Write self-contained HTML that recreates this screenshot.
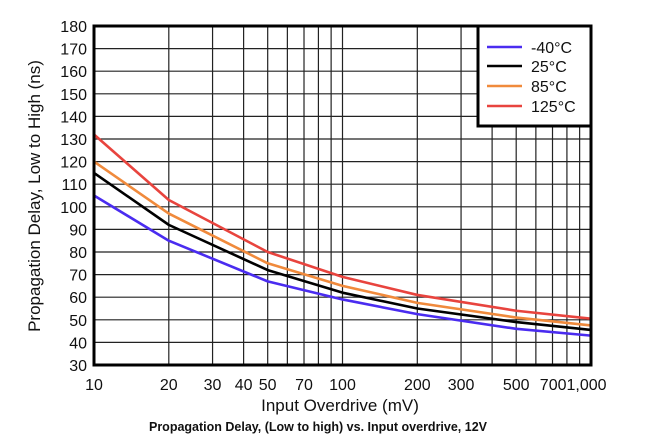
<!DOCTYPE html>
<html><head><meta charset="utf-8"><style>body{margin:0;background:#fff}svg{display:block}</style></head>
<body>
<svg id="s" width="668" height="447" xmlns="http://www.w3.org/2000/svg" font-family="Liberation Sans, Arial, sans-serif">
</svg>
<script>
const s=document.getElementById('s');
const L=94,R=591,T=26,B=365;
const X=v=>L+Math.log10(v/10)*(R-L)/2;
const Y=v=>B-(v-30)*(B-T)/150;
let h='';
for(let v=40;v<180;v+=10)h+=`<line x1="${L}" x2="${R}" y1="${Y(v)}" y2="${Y(v)}" stroke="#222" stroke-width="1.2"/>`;
[20,30,40,50,60,70,80,90,100,200,300,400,500,600,700,800,900].forEach(v=>h+=`<line x1="${X(v)}" x2="${X(v)}" y1="${T}" y2="${B}" stroke="#222" stroke-width="1.2"/>`);
for(let v=30;v<=180;v+=10)h+=`<text x="87" y="${Y(v)+6}" font-size="16" text-anchor="end" fill="#111">${v}</text>`;
[[10,'10'],[20,'20'],[30,'30'],[40,'40'],[50,'50'],[70,'70'],[100,'100'],[200,'200'],[300,'300'],[500,'500'],[700,'700'],[1000,'1,000']].forEach(([v,t])=>{
 let x=X(v),a='middle';
 if(v==700){x=X(700)+14;a='end';}
 if(v==1000){x=X(700)+14;a='start';}
 h+=`<text x="${x}" y="390" font-size="16" text-anchor="${a}" fill="#111">${t}</text>`;});
const xs=[10,20,50,100,200,500,1000];
const ser=[['#4a2cf0',[105,85,67,59,52.5,46,43]],['#000',[115,92,72,62,55,49,45.5]],['#f08a3c',[120,97,75,65,57.5,51,47.5]],['#e8443e',[132,103,80,69,61,54,50.5]]];
ser.forEach(([c,d])=>{
 const pts=xs.map((v,i)=>[X(v),Y(d[i])]);
 let p=`M${pts[0]}`;
 for(let i=1;i<pts.length;i++){p+=` L${pts[i]}`;}
 h+=`<path d="${p}" fill="none" stroke="${c}" stroke-width="2.6" stroke-linejoin="round"/>`;});
h+=`<rect x="${L}" y="${T}" width="${R-L}" height="${B-T}" fill="none" stroke="#000" stroke-width="3"/>`;
h+=`<rect x="478" y="${T}" width="${R-478}" height="100" fill="#fff" stroke="#000" stroke-width="3"/>`;
[['#4a2cf0','-40°C',47],['#000','25°C',66],['#f08a3c','85°C',86],['#e8443e','125°C',106]].forEach(([c,t,y])=>{
 h+=`<line x1="487" x2="522" y1="${y}" y2="${y}" stroke="${c}" stroke-width="2.6"/><text x="531" y="${y+6}" font-size="16" fill="#111">${t}</text>`;});
h+=`<text x="340" y="411" font-size="17" text-anchor="middle" fill="#111">Input Overdrive (mV)</text>`;
h+=`<text transform="translate(40,196) rotate(-90)" font-size="17" text-anchor="middle" fill="#111">Propagation Delay, Low to High (ns)</text>`;
h+=`<text x="318" y="431" font-size="12.5" font-weight="bold" text-anchor="middle" fill="#111">Propagation Delay, (Low to high) vs. Input overdrive, 12V</text>`;
s.innerHTML=h;
</script>
</body></html>
